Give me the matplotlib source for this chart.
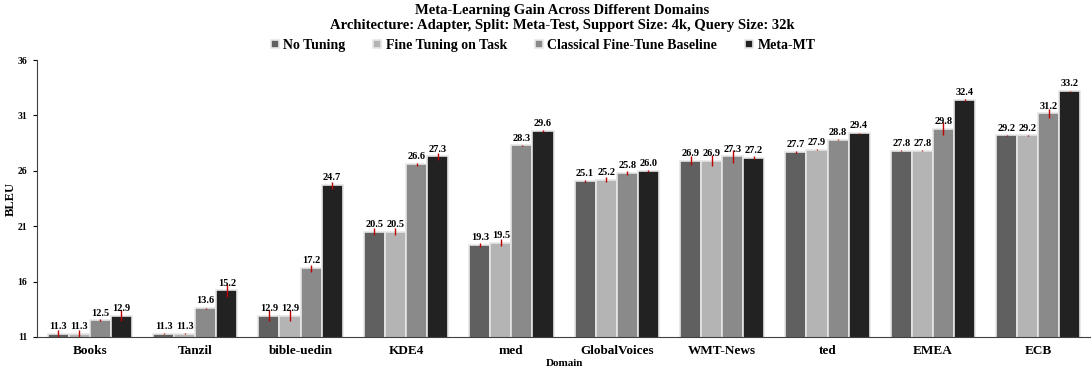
import matplotlib

matplotlib.use("Agg")
import matplotlib.pyplot as plt
import numpy as np

plt.rcParams["font.family"] = ["Liberation Serif", "DejaVu Serif"]
plt.rcParams["font.weight"] = "bold"

domains = ["Books", "Tanzil", "bible-uedin", "KDE4", "med", "GlobalVoices",
           "WMT-News", "ted", "EMEA", "ECB"]
series_names = ["No Tuning", "Fine Tuning on Task", "Classical Fine-Tune Baseline", "Meta-MT"]

no_tuning = [11.3, 11.3, 12.9, 20.5, 19.3, 25.1, 26.9, 27.7, 27.8, 29.2]
fine_tuning = [11.3, 11.3, 12.9, 20.5, 19.5, 25.2, 26.9, 27.9, 27.8, 29.2]
classical = [12.5, 13.6, 17.2, 26.6, 28.3, 25.8, 27.3, 28.8, 29.8, 31.2]
meta_mt = [12.9, 15.2, 24.7, 27.3, 29.6, 26.0, 27.2, 29.4, 32.4, 33.2]

err_no_tuning = [0.3, 0.05, 0.5, 0.3, 0.2, 0.1, 0.4, 0.05, 0.05, 0.05]
err_fine_tuning = [0.3, 0.05, 0.5, 0.3, 0.3, 0.2, 0.5, 0.05, 0.05, 0.05]
err_classical = [0.1, 0.05, 0.3, 0.15, 0.05, 0.2, 0.6, 0.05, 0.6, 0.4]
err_meta_mt = [0.5, 0.6, 0.3, 0.3, 0.05, 0.1, 0.1, 0.05, 0.05, 0.05]

colors = ["#606060", "#b4b4b4", "#8a8a8a", "#222222"]

values = [no_tuning, fine_tuning, classical, meta_mt]
errors = [err_no_tuning, err_fine_tuning, err_classical, err_meta_mt]

fig = plt.figure(figsize=(10.91, 3.69), dpi=100)
ax = fig.add_axes([0.034, 0.087, 0.966, 0.75])

x = np.arange(len(domains))
width = 0.2
for i, (vals, errs) in enumerate(zip(values, errors)):
    pos = x + (i - 1.5) * width
    ax.bar(pos, vals, width, color=colors[i], edgecolor="#e6e6e6", linewidth=1.2,
           label=series_names[i], zorder=2)
    ax.errorbar(pos, vals, yerr=errs, fmt="none", ecolor="#c00000", elinewidth=1.0,
                capsize=0, zorder=3)
    for px, v in zip(pos, vals):
        ax.text(px, v + 0.25, f"{v:.1f}", ha="center", va="bottom", fontsize=7.5,
                fontweight="bold", zorder=4)

ax.set_xlim(-0.5, len(domains) - 0.5)
ax.set_ylim(11, 36)
ax.set_yticks(range(11, 37, 5))
ax.tick_params(axis="y", labelsize=7, length=3, width=0.8, pad=4)
ax.tick_params(axis="x", length=0, labelsize=9.5, pad=6)
ax.set_xticks(x)
ax.set_xticklabels(domains, fontweight="bold")
for lbl in ax.get_yticklabels():
    lbl.set_fontweight("bold")

ax.spines["top"].set_visible(False)
ax.spines["right"].set_visible(False)
ax.spines["left"].set_color("#404040")
ax.spines["bottom"].set_color("#404040")

ax.set_ylabel("BLEU", fontsize=9, fontweight="bold")
ax.yaxis.set_label_coords(-0.019, 0.5)
ax.set_xlabel("Domain", fontsize=8, fontweight="bold", labelpad=1)

fig.text(0.515, 0.99, "Meta-Learning Gain Across Different Domains\n"
         "Architecture: Adapter, Split: Meta-Test, Support Size: 4k, Query Size: 32k",
         ha="center", va="top", fontsize=10.5, fontweight="bold", linespacing=1.25)

leg = ax.legend(loc="lower center", bbox_to_anchor=(0.48, 1.01), ncol=4, frameon=False,
                fontsize=10, handlelength=0.6, handleheight=0.6, handletextpad=0.3,
                columnspacing=2.0, borderaxespad=0)
for t in leg.get_texts():
    t.set_fontweight("bold")

fig.savefig("out.png", dpi=100)
